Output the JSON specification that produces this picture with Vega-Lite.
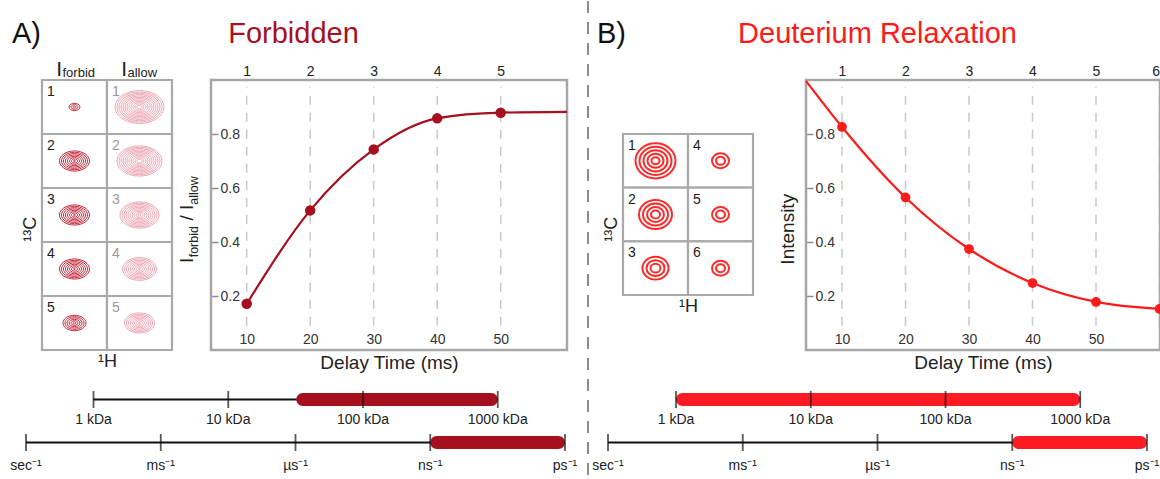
{
  "$schema": "https://vega.github.io/schema/vega-lite/v6.json",
  "padding": 0,
  "background": "white",
  "config": {
    "view": {"stroke": null},
    "font": "Liberation Sans",
    "axis": {"grid": false, "titleFontWeight": "normal", "labelColor": "#333333", "titleColor": "#222222", "labelFont": "Liberation Sans", "titleFont": "Liberation Sans"}
  },
  "datasets": {
    "cellsA": [
      {"c0": 0, "c1": 1, "r0": 0, "r1": 1, "n": "1", "kind": "forbid"},
      {"c0": 0, "c1": 1, "r0": 1, "r1": 2, "n": "2", "kind": "forbid"},
      {"c0": 0, "c1": 1, "r0": 2, "r1": 3, "n": "3", "kind": "forbid"},
      {"c0": 0, "c1": 1, "r0": 3, "r1": 4, "n": "4", "kind": "forbid"},
      {"c0": 0, "c1": 1, "r0": 4, "r1": 5, "n": "5", "kind": "forbid"},
      {"c0": 1, "c1": 2, "r0": 0, "r1": 1, "n": "1", "kind": "allow"},
      {"c0": 1, "c1": 2, "r0": 1, "r1": 2, "n": "2", "kind": "allow"},
      {"c0": 1, "c1": 2, "r0": 2, "r1": 3, "n": "3", "kind": "allow"},
      {"c0": 1, "c1": 2, "r0": 3, "r1": 4, "n": "4", "kind": "allow"},
      {"c0": 1, "c1": 2, "r0": 4, "r1": 5, "n": "5", "kind": "allow"}
    ],
    "headersA": [
      {"mid": 0.5, "main": "I", "sub": "forbid"},
      {"mid": 1.5, "main": "I", "sub": "allow"}
    ],
    "ringsA": [
      {"h": 0.5, "c": 0.5, "w": 2.75, "kind": "forbid"}, {"h": 0.5, "c": 0.5, "w": 1.75, "kind": "forbid"}, {"h": 0.5, "c": 0.5, "w": 0.75, "kind": "forbid"},
      {"h": 0.5, "c": 1.5, "w": 7.5, "kind": "forbid"}, {"h": 0.5, "c": 1.5, "w": 6.5, "kind": "forbid"}, {"h": 0.5, "c": 1.5, "w": 5.5, "kind": "forbid"}, {"h": 0.5, "c": 1.5, "w": 4.5, "kind": "forbid"}, {"h": 0.5, "c": 1.5, "w": 3.5, "kind": "forbid"}, {"h": 0.5, "c": 1.5, "w": 2.5, "kind": "forbid"}, {"h": 0.5, "c": 1.5, "w": 1.5, "kind": "forbid"}, {"h": 0.5, "c": 1.5, "w": 0.5, "kind": "forbid"},
      {"h": 0.5, "c": 2.5, "w": 7.5, "kind": "forbid"}, {"h": 0.5, "c": 2.5, "w": 6.5, "kind": "forbid"}, {"h": 0.5, "c": 2.5, "w": 5.5, "kind": "forbid"}, {"h": 0.5, "c": 2.5, "w": 4.5, "kind": "forbid"}, {"h": 0.5, "c": 2.5, "w": 3.5, "kind": "forbid"}, {"h": 0.5, "c": 2.5, "w": 2.5, "kind": "forbid"}, {"h": 0.5, "c": 2.5, "w": 1.5, "kind": "forbid"}, {"h": 0.5, "c": 2.5, "w": 0.5, "kind": "forbid"},
      {"h": 0.5, "c": 3.5, "w": 7.5, "kind": "forbid"}, {"h": 0.5, "c": 3.5, "w": 6.5, "kind": "forbid"}, {"h": 0.5, "c": 3.5, "w": 5.5, "kind": "forbid"}, {"h": 0.5, "c": 3.5, "w": 4.5, "kind": "forbid"}, {"h": 0.5, "c": 3.5, "w": 3.5, "kind": "forbid"}, {"h": 0.5, "c": 3.5, "w": 2.5, "kind": "forbid"}, {"h": 0.5, "c": 3.5, "w": 1.5, "kind": "forbid"}, {"h": 0.5, "c": 3.5, "w": 0.5, "kind": "forbid"},
      {"h": 0.5, "c": 4.5, "w": 5.75, "kind": "forbid"}, {"h": 0.5, "c": 4.5, "w": 4.75, "kind": "forbid"}, {"h": 0.5, "c": 4.5, "w": 3.75, "kind": "forbid"}, {"h": 0.5, "c": 4.5, "w": 2.75, "kind": "forbid"}, {"h": 0.5, "c": 4.5, "w": 1.75, "kind": "forbid"}, {"h": 0.5, "c": 4.5, "w": 0.75, "kind": "forbid"},
      {"h": 1.5, "c": 0.5, "w": 12.25, "kind": "allow"}, {"h": 1.5, "c": 0.5, "w": 11.25, "kind": "allow"}, {"h": 1.5, "c": 0.5, "w": 10.25, "kind": "allow"}, {"h": 1.5, "c": 0.5, "w": 9.25, "kind": "allow"}, {"h": 1.5, "c": 0.5, "w": 8.25, "kind": "allow"}, {"h": 1.5, "c": 0.5, "w": 7.25, "kind": "allow"}, {"h": 1.5, "c": 0.5, "w": 6.25, "kind": "allow"}, {"h": 1.5, "c": 0.5, "w": 5.25, "kind": "allow"}, {"h": 1.5, "c": 0.5, "w": 4.25, "kind": "allow"}, {"h": 1.5, "c": 0.5, "w": 3.25, "kind": "allow"}, {"h": 1.5, "c": 0.5, "w": 2.25, "kind": "allow"}, {"h": 1.5, "c": 0.5, "w": 1.25, "kind": "allow"},
      {"h": 1.5, "c": 1.5, "w": 11.25, "kind": "allow"}, {"h": 1.5, "c": 1.5, "w": 10.25, "kind": "allow"}, {"h": 1.5, "c": 1.5, "w": 9.25, "kind": "allow"}, {"h": 1.5, "c": 1.5, "w": 8.25, "kind": "allow"}, {"h": 1.5, "c": 1.5, "w": 7.25, "kind": "allow"}, {"h": 1.5, "c": 1.5, "w": 6.25, "kind": "allow"}, {"h": 1.5, "c": 1.5, "w": 5.25, "kind": "allow"}, {"h": 1.5, "c": 1.5, "w": 4.25, "kind": "allow"}, {"h": 1.5, "c": 1.5, "w": 3.25, "kind": "allow"}, {"h": 1.5, "c": 1.5, "w": 2.25, "kind": "allow"}, {"h": 1.5, "c": 1.5, "w": 1.25, "kind": "allow"},
      {"h": 1.5, "c": 2.5, "w": 9.75, "kind": "allow"}, {"h": 1.5, "c": 2.5, "w": 8.75, "kind": "allow"}, {"h": 1.5, "c": 2.5, "w": 7.75, "kind": "allow"}, {"h": 1.5, "c": 2.5, "w": 6.75, "kind": "allow"}, {"h": 1.5, "c": 2.5, "w": 5.75, "kind": "allow"}, {"h": 1.5, "c": 2.5, "w": 4.75, "kind": "allow"}, {"h": 1.5, "c": 2.5, "w": 3.75, "kind": "allow"}, {"h": 1.5, "c": 2.5, "w": 2.75, "kind": "allow"}, {"h": 1.5, "c": 2.5, "w": 1.75, "kind": "allow"}, {"h": 1.5, "c": 2.5, "w": 0.75, "kind": "allow"},
      {"h": 1.5, "c": 3.5, "w": 8.5, "kind": "allow"}, {"h": 1.5, "c": 3.5, "w": 7.5, "kind": "allow"}, {"h": 1.5, "c": 3.5, "w": 6.5, "kind": "allow"}, {"h": 1.5, "c": 3.5, "w": 5.5, "kind": "allow"}, {"h": 1.5, "c": 3.5, "w": 4.5, "kind": "allow"}, {"h": 1.5, "c": 3.5, "w": 3.5, "kind": "allow"}, {"h": 1.5, "c": 3.5, "w": 2.5, "kind": "allow"}, {"h": 1.5, "c": 3.5, "w": 1.5, "kind": "allow"}, {"h": 1.5, "c": 3.5, "w": 0.5, "kind": "allow"},
      {"h": 1.5, "c": 4.5, "w": 7.5, "kind": "allow"}, {"h": 1.5, "c": 4.5, "w": 6.5, "kind": "allow"}, {"h": 1.5, "c": 4.5, "w": 5.5, "kind": "allow"}, {"h": 1.5, "c": 4.5, "w": 4.5, "kind": "allow"}, {"h": 1.5, "c": 4.5, "w": 3.5, "kind": "allow"}, {"h": 1.5, "c": 4.5, "w": 2.5, "kind": "allow"}, {"h": 1.5, "c": 4.5, "w": 1.5, "kind": "allow"}, {"h": 1.5, "c": 4.5, "w": 0.5, "kind": "allow"}
    ],
    "cellsB": [
      {"c0": 0, "c1": 1, "r0": 0, "r1": 1, "n": "1"},
      {"c0": 0, "c1": 1, "r0": 1, "r1": 2, "n": "2"},
      {"c0": 0, "c1": 1, "r0": 2, "r1": 3, "n": "3"},
      {"c0": 1, "c1": 2, "r0": 0, "r1": 1, "n": "4"},
      {"c0": 1, "c1": 2, "r0": 1, "r1": 2, "n": "5"},
      {"c0": 1, "c1": 2, "r0": 2, "r1": 3, "n": "6"}
    ],
    "ringsB": [
      {"h": 0.5, "c": 0.5, "w": 10}, {"h": 0.5, "c": 0.5, "w": 8}, {"h": 0.5, "c": 0.5, "w": 6}, {"h": 0.5, "c": 0.5, "w": 4}, {"h": 0.5, "c": 0.5, "w": 2},
      {"h": 0.5, "c": 1.5, "w": 8.25}, {"h": 0.5, "c": 1.5, "w": 6.25}, {"h": 0.5, "c": 1.5, "w": 4.25}, {"h": 0.5, "c": 1.5, "w": 2.25},
      {"h": 0.5, "c": 2.5, "w": 6.5}, {"h": 0.5, "c": 2.5, "w": 4.5}, {"h": 0.5, "c": 2.5, "w": 2.5},
      {"h": 1.5, "c": 0.5, "w": 4.25}, {"h": 1.5, "c": 0.5, "w": 2.25},
      {"h": 1.5, "c": 1.5, "w": 4.25}, {"h": 1.5, "c": 1.5, "w": 2.25},
      {"h": 1.5, "c": 2.5, "w": 4.25}, {"h": 1.5, "c": 2.5, "w": 2.25}
    ],
    "pointsA": [
      {"t": 10, "v": 0.171}, {"t": 20, "v": 0.517}, {"t": 30, "v": 0.743}, {"t": 40, "v": 0.858}, {"t": 50, "v": 0.879}
    ],
    "curveA": [
      {"t": 10, "v": 0.171}, {"t": 20, "v": 0.517}, {"t": 30, "v": 0.743}, {"t": 40, "v": 0.858}, {"t": 50, "v": 0.879}, {"t": 60.44, "v": 0.882}
    ],
    "pointsB": [
      {"t": 10, "v": 0.826}, {"t": 20, "v": 0.565}, {"t": 30, "v": 0.374}, {"t": 40, "v": 0.248}, {"t": 50, "v": 0.178}, {"t": 60, "v": 0.152}
    ],
    "curveB": [
      {"t": 4.33, "v": 0.996}, {"t": 10, "v": 0.826}, {"t": 20, "v": 0.565}, {"t": 30, "v": 0.374}, {"t": 40, "v": 0.248}, {"t": 50, "v": 0.178}, {"t": 60, "v": 0.152}
    ],
    "kdaSpan": [{"track": "kDa", "lo": 1, "hi": 1000}],
    "kdaBandA": [{"track": "kDa", "lo": 32, "hi": 1000}],
    "kdaBandB": [{"track": "kDa", "lo": 1, "hi": 1000}],
    "kdaTicks": [
      {"track": "kDa", "k": 1, "lab": "1 kDa"}, {"track": "kDa", "k": 10, "lab": "10 kDa"}, {"track": "kDa", "k": 100, "lab": "100 kDa"}, {"track": "kDa", "k": 1000, "lab": "1000 kDa"}
    ],
    "timeSpan": [{"track": "time", "lo": 0, "hi": 4}],
    "timeBand": [{"track": "time", "lo": 3, "hi": 4}],
    "timeTicks": [
      {"track": "time", "p": 0, "lab": "sec⁻¹"}, {"track": "time", "p": 1, "lab": "ms⁻¹"}, {"track": "time", "p": 2, "lab": "µs⁻¹"}, {"track": "time", "p": 3, "lab": "ns⁻¹"}, {"track": "time", "p": 4, "lab": "ps⁻¹"}
    ]
  },
  "hconcat": [
    {
      "vconcat": [
        {
          "width": 587, "height": 79,
          "layer": [
            {"data": {"values": [{"label": "Forbidden"}]}, "mark": {"type": "text", "fontSize": 29, "color": "#a8101f", "baseline": "alphabetic", "dy": 2.5}, "encoding": {"text": {"field": "label"}}},
            {"data": {"values": [{"label": "A)"}]}, "mark": {"type": "text", "fontSize": 29, "color": "#111111", "align": "left", "baseline": "alphabetic", "dy": 2.5, "dx": -281.5}, "encoding": {"text": {"field": "label"}}}
          ]
        },
        {
          "width": 567, "height": 297.5,
          "resolve": {"scale": {"x": "independent", "y": "independent"}},
          "layer": [
            {
              "resolve": {"scale": {"color": "independent"}},
              "layer": [
                {
                  "data": {"name": "cellsA"},
                  "mark": {"type": "rect", "fill": "white", "stroke": "#a9a9a9", "strokeWidth": 2.2},
                  "encoding": {
                    "x": {"field": "c0", "type": "quantitative", "scale": {"domain": [-0.646, 8.077], "nice": false, "zero": false},
                          "axis": {"orient": "bottom", "offset": -27.5, "labels": false, "ticks": false, "domain": false, "title": "¹H", "titleFontSize": 18, "titlePadding": 2, "titleX": 107}},
                    "x2": {"field": "c1"},
                    "y": {"field": "r0", "type": "quantitative", "scale": {"domain": [0, 5.5093], "nice": false, "zero": false, "reverse": true},
                          "axis": {"orient": "left", "offset": -42, "labels": false, "ticks": false, "domain": false, "title": "¹³C", "titleFontSize": 18, "titlePadding": 3}},
                    "y2": {"field": "r1"}
                  }
                },
                {
                  "data": {"name": "ringsA"},
                  "mark": {"type": "point", "shape": "M -1 0 A 1 0.67 0 1 0 1 0 A 1 0.67 0 1 0 -1 0 Z", "filled": false, "strokeWidth": 1, "opacity": 1},
                  "encoding": {
                    "x": {"field": "h", "type": "quantitative"},
                    "y": {"field": "c", "type": "quantitative"},
                    "size": {"field": "w", "type": "quantitative", "scale": {"type": "pow", "exponent": 2, "domain": [0, 12.5], "range": [0, 2500]}, "legend": null},
                    "color": {"field": "kind", "type": "nominal", "scale": {"domain": ["forbid", "allow"], "range": ["#c62a3d", "#eba6b4"]}, "legend": null}
                  }
                },
                {
                  "data": {"name": "cellsA"},
                  "mark": {"type": "text", "align": "left", "baseline": "top", "dx": 5, "dy": 5, "fontSize": 14},
                  "encoding": {
                    "x": {"field": "c0", "type": "quantitative"},
                    "y": {"field": "r0", "type": "quantitative"},
                    "text": {"field": "n"},
                    "color": {"field": "kind", "type": "nominal", "scale": {"domain": ["forbid", "allow"], "range": ["#1a1a1a", "#9a9a9a"]}, "legend": null}
                  }
                },
                {
                  "data": {"name": "headersA"},
                  "mark": {"type": "text", "align": "right", "baseline": "alphabetic", "dx": -12.5, "dy": -4, "fontSize": 21, "color": "#222222"},
                  "encoding": {"x": {"field": "mid", "type": "quantitative"}, "y": {"datum": 0, "type": "quantitative"}, "text": {"field": "main"}}
                },
                {
                  "data": {"name": "headersA"},
                  "mark": {"type": "text", "align": "left", "baseline": "alphabetic", "dx": -12, "dy": -3, "fontSize": 13, "color": "#222222"},
                  "encoding": {"x": {"field": "mid", "type": "quantitative"}, "y": {"datum": 0, "type": "quantitative"}, "text": {"field": "sub"}}
                }
              ]
            },
            {
              "resolve": {"axis": {"x": "independent", "y": "independent"}},
              "layer": [
                {
                  "data": {"name": "pointsA"},
                  "mark": {"type": "rule", "color": "#c9c9c9", "strokeWidth": 1.5, "strokeDash": [9, 8]},
                  "encoding": {
                    "x": {"field": "t", "type": "quantitative", "scale": {"domain": [-28.847, 60.44], "nice": false, "zero": false},
                          "axis": {"orient": "bottom", "offset": -47.5, "values": [10, 20, 30, 40, 50], "domain": false, "ticks": false, "labelPadding": 2, "labelFontSize": 14, "title": "Delay Time (ms)", "titleFontSize": 19, "titlePadding": 7, "titleX": 389}},
                    "y": {"datum": 0.09, "type": "quantitative", "scale": {"domain": [-0.10185, 1], "nice": false, "zero": false},
                          "axis": {"orient": "right", "offset": -356, "values": [0.2, 0.4, 0.6, 0.8], "domain": false, "tickSize": 7, "tickColor": "#8c8c8c", "tickWidth": 1.5, "labelPadding": 2, "labelFontSize": 14, "title": null}},
                    "y2": {"datum": 0.975}
                  }
                },
                {
                  "data": {"values": [{"frame": "plot"}]},
                  "mark": {"type": "rect", "filled": false, "color": "#a6a6a6", "strokeWidth": 2.5},
                  "encoding": {
                    "x": {"datum": 4.38, "type": "quantitative", "axis": null}, "x2": {"datum": 60.44},
                    "y": {"datum": 0, "type": "quantitative", "axis": null}, "y2": {"datum": 1}
                  }
                },
                {
                  "data": {"name": "curveA"},
                  "mark": {"type": "line", "interpolate": "monotone", "color": "#a50f1e", "strokeWidth": 2.2},
                  "encoding": {
                    "x": {"field": "t", "type": "quantitative", "axis": {"orient": "top", "values": [10, 20, 30, 40, 50], "labelExpr": "datum.value / 10", "domain": false, "ticks": false, "labelPadding": 1.5, "labelFontSize": 14, "labelColor": "#222222", "title": null}},
                    "y": {"field": "v", "type": "quantitative", "axis": null}
                  }
                },
                {
                  "data": {"name": "pointsA"},
                  "mark": {"type": "circle", "size": 110, "color": "#a50f1e", "opacity": 1},
                  "encoding": {"x": {"field": "t", "type": "quantitative", "axis": null}, "y": {"field": "v", "type": "quantitative", "axis": null}}
                },
                {
                  "data": {"values": [{"s": "I"}]},
                  "mark": {"type": "text", "angle": 270, "align": "left", "baseline": "alphabetic", "dx": -48, "dy": -18, "fontSize": 19, "color": "#222222"},
                  "encoding": {"x": {"datum": 4.38, "type": "quantitative", "axis": null}, "y": {"datum": 0.5, "type": "quantitative", "axis": null}, "text": {"field": "s"}}
                },
                {
                  "data": {"values": [{"s": "forbid"}]},
                  "mark": {"type": "text", "angle": 270, "align": "left", "baseline": "alphabetic", "dx": -42.3, "dy": -13, "fontSize": 12.5, "color": "#222222"},
                  "encoding": {"x": {"datum": 4.38, "type": "quantitative", "axis": null}, "y": {"datum": 0.5, "type": "quantitative", "axis": null}, "text": {"field": "s"}}
                },
                {
                  "data": {"values": [{"s": "/ I"}]},
                  "mark": {"type": "text", "angle": 270, "align": "left", "baseline": "alphabetic", "dx": -5.6, "dy": -18, "fontSize": 19, "color": "#222222"},
                  "encoding": {"x": {"datum": 4.38, "type": "quantitative", "axis": null}, "y": {"datum": 0.5, "type": "quantitative", "axis": null}, "text": {"field": "s"}}
                },
                {
                  "data": {"values": [{"s": "allow"}]},
                  "mark": {"type": "text", "angle": 270, "align": "left", "baseline": "alphabetic", "dx": 10.2, "dy": -13, "fontSize": 12.5, "color": "#222222"},
                  "encoding": {"x": {"datum": 4.38, "type": "quantitative", "axis": null}, "y": {"datum": 0.5, "type": "quantitative", "axis": null}, "text": {"field": "s"}}
                }
              ]
            }
          ]
        },
        {
          "width": 587, "height": 86,
          "resolve": {"scale": {"x": "independent"}},
          "layer": [
            {
              "data": {"name": "kdaSpan"},
              "mark": {"type": "rule", "color": "#111111", "strokeWidth": 2},
              "encoding": {
                "x": {"field": "lo", "type": "quantitative", "scale": {"type": "log", "domain": [0.2023, 4596], "nice": false}, "axis": null},
                "x2": {"field": "hi"},
                "y": {"field": "track", "type": "nominal", "scale": {"type": "band", "domain": ["kDa", "time"], "paddingInner": 0, "paddingOuter": 0}, "axis": null}
              }
            },
            {
              "data": {"name": "kdaBandA"},
              "mark": {"type": "bar", "height": 13, "cornerRadius": 6.5, "color": "#a50f1e"},
              "encoding": {
                "x": {"field": "lo", "type": "quantitative", "scale": {"type": "log", "domain": [0.2023, 4596], "nice": false}, "axis": null},
                "x2": {"field": "hi"},
                "y": {"field": "track", "type": "nominal", "scale": {"type": "band", "domain": ["kDa", "time"], "paddingInner": 0, "paddingOuter": 0}, "axis": null}
              }
            },
            {
              "data": {"name": "kdaTicks"},
              "mark": {"type": "tick", "color": "#111111", "thickness": 1.8, "size": 17},
              "encoding": {
                "x": {"field": "k", "type": "quantitative", "scale": {"type": "log", "domain": [0.2023, 4596], "nice": false}, "axis": null},
                "y": {"field": "track", "type": "nominal", "scale": {"type": "band", "domain": ["kDa", "time"], "paddingInner": 0, "paddingOuter": 0}, "axis": null}
              }
            },
            {
              "data": {"name": "kdaTicks"},
              "mark": {"type": "text", "dy": 20, "fontSize": 14, "color": "#222222"},
              "encoding": {
                "x": {"field": "k", "type": "quantitative", "scale": {"type": "log", "domain": [0.2023, 4596], "nice": false}, "axis": null},
                "y": {"field": "track", "type": "nominal", "scale": {"type": "band", "domain": ["kDa", "time"], "paddingInner": 0, "paddingOuter": 0}, "axis": null},
                "text": {"field": "lab"}
              }
            },
            {
              "data": {"name": "timeSpan"},
              "mark": {"type": "rule", "color": "#111111", "strokeWidth": 2},
              "encoding": {
                "x": {"field": "lo", "type": "quantitative", "scale": {"domain": [-0.19295, 4.16327], "nice": false, "zero": false}, "axis": null},
                "x2": {"field": "hi"},
                "y": {"field": "track", "type": "nominal", "scale": {"type": "band", "domain": ["kDa", "time"], "paddingInner": 0, "paddingOuter": 0}, "axis": null}
              }
            },
            {
              "data": {"name": "timeBand"},
              "mark": {"type": "bar", "height": 13, "cornerRadius": 6.5, "color": "#a50f1e"},
              "encoding": {
                "x": {"field": "lo", "type": "quantitative", "scale": {"domain": [-0.19295, 4.16327], "nice": false, "zero": false}, "axis": null},
                "x2": {"field": "hi"},
                "y": {"field": "track", "type": "nominal", "scale": {"type": "band", "domain": ["kDa", "time"], "paddingInner": 0, "paddingOuter": 0}, "axis": null}
              }
            },
            {
              "data": {"name": "timeTicks"},
              "mark": {"type": "tick", "color": "#111111", "thickness": 1.8, "size": 17},
              "encoding": {
                "x": {"field": "p", "type": "quantitative", "scale": {"domain": [-0.19295, 4.16327], "nice": false, "zero": false}, "axis": null},
                "y": {"field": "track", "type": "nominal", "scale": {"type": "band", "domain": ["kDa", "time"], "paddingInner": 0, "paddingOuter": 0}, "axis": null}
              }
            },
            {
              "data": {"name": "timeTicks"},
              "mark": {"type": "text", "dy": 23, "fontSize": 14, "color": "#222222"},
              "encoding": {
                "x": {"field": "p", "type": "quantitative", "scale": {"domain": [-0.19295, 4.16327], "nice": false, "zero": false}, "axis": null},
                "y": {"field": "track", "type": "nominal", "scale": {"type": "band", "domain": ["kDa", "time"], "paddingInner": 0, "paddingOuter": 0}, "axis": null},
                "text": {"field": "lab"}
              }
            }
          ]
        }
      ],
      "spacing": 0,
      "bounds": "flush"
    },
    {
      "width": 2, "height": 479,
      "data": {"values": [{"pos": 0}]},
      "mark": {"type": "rule", "color": "#8c8c8c", "strokeWidth": 2, "strokeDash": [12, 9]},
      "encoding": {"x": {"field": "pos", "type": "quantitative", "scale": {"domain": [-1, 1]}, "axis": null}}
    },
    {
      "vconcat": [
        {
          "width": 571, "height": 79,
          "layer": [
            {"data": {"values": [{"label": "Deuterium Relaxation"}]}, "mark": {"type": "text", "fontSize": 29, "color": "#ff1a1a", "baseline": "alphabetic", "dy": 2.5, "dx": 3}, "encoding": {"text": {"field": "label"}}},
            {"data": {"values": [{"label": "B)"}]}, "mark": {"type": "text", "fontSize": 29, "color": "#111111", "align": "left", "baseline": "alphabetic", "dy": 2.5, "dx": -277.5}, "encoding": {"text": {"field": "label"}}}
          ]
        },
        {
          "width": 571, "height": 297.5,
          "resolve": {"scale": {"x": "independent", "y": "independent"}},
          "layer": [
            {
              "layer": [
                {
                  "data": {"name": "cellsB"},
                  "mark": {"type": "rect", "fill": "white", "stroke": "#a9a9a9", "strokeWidth": 2.2},
                  "encoding": {
                    "x": {"field": "c0", "type": "quantitative", "scale": {"domain": [-0.5231, 8.2615], "nice": false, "zero": false},
                          "axis": {"orient": "bottom", "offset": -82.5, "labels": false, "ticks": false, "domain": false, "title": "¹H", "titleFontSize": 18, "titlePadding": 2, "titleX": 99}},
                    "x2": {"field": "c1"},
                    "y": {"field": "r0", "type": "quantitative", "scale": {"domain": [-1.0062, 4.5372], "nice": false, "zero": false, "reverse": true},
                          "axis": {"orient": "left", "offset": -34, "labels": false, "ticks": false, "domain": false, "title": "¹³C", "titleFontSize": 18, "titlePadding": 3}},
                    "y2": {"field": "r1"}
                  }
                },
                {
                  "data": {"name": "ringsB"},
                  "mark": {"type": "point", "shape": "M -1 0 A 1 0.88 0 1 0 1 0 A 1 0.88 0 1 0 -1 0 Z", "filled": false, "strokeWidth": 2, "opacity": 1, "color": "#ff2b2b"},
                  "encoding": {
                    "x": {"field": "h", "type": "quantitative"},
                    "y": {"field": "c", "type": "quantitative"},
                    "size": {"field": "w", "type": "quantitative", "scale": {"type": "pow", "exponent": 2, "domain": [0, 12.5], "range": [0, 2500]}, "legend": null}
                  }
                },
                {
                  "data": {"name": "cellsB"},
                  "mark": {"type": "text", "align": "left", "baseline": "top", "dx": 5, "dy": 5, "fontSize": 14, "color": "#1a1a1a"},
                  "encoding": {
                    "x": {"field": "c0", "type": "quantitative"},
                    "y": {"field": "r0", "type": "quantitative"},
                    "text": {"field": "n"}
                  }
                }
              ]
            },
            {
              "resolve": {"axis": {"x": "independent", "y": "independent"}},
              "layer": [
                {
                  "data": {"name": "pointsB"},
                  "mark": {"type": "rule", "color": "#c9c9c9", "strokeWidth": 1.5, "strokeDash": [9, 8]},
                  "encoding": {
                    "x": {"field": "t", "type": "quantitative", "scale": {"domain": [-29.843, 60.08], "nice": false, "zero": false},
                          "axis": {"orient": "bottom", "offset": -47.5, "values": [10, 20, 30, 40, 50], "domain": false, "ticks": false, "labelPadding": 2, "labelFontSize": 14, "title": "Delay Time (ms)", "titleFontSize": 19, "titlePadding": 7, "titleX": 394}},
                    "y": {"datum": 0.09, "type": "quantitative", "scale": {"domain": [-0.10185, 1], "nice": false, "zero": false},
                          "axis": {"orient": "right", "offset": -354, "values": [0.2, 0.4, 0.6, 0.8], "domain": false, "tickSize": 7, "tickColor": "#8c8c8c", "tickWidth": 1.5, "labelPadding": 2, "labelFontSize": 14, "title": null}},
                    "y2": {"datum": 0.975}
                  }
                },
                {
                  "data": {"values": [{"frame": "plot"}]},
                  "mark": {"type": "rect", "filled": false, "color": "#a6a6a6", "strokeWidth": 2.5},
                  "encoding": {
                    "x": {"datum": 4.33, "type": "quantitative", "axis": null}, "x2": {"datum": 60.08},
                    "y": {"datum": 0, "type": "quantitative", "axis": null}, "y2": {"datum": 1}
                  }
                },
                {
                  "data": {"name": "curveB"},
                  "mark": {"type": "line", "interpolate": "monotone", "color": "#ff1a1a", "strokeWidth": 2.2},
                  "encoding": {
                    "x": {"field": "t", "type": "quantitative", "axis": {"orient": "top", "values": [10, 20, 30, 40, 50, 60], "labelExpr": "datum.value / 10", "domain": false, "ticks": false, "labelPadding": 1.5, "labelFontSize": 14, "labelColor": "#222222", "title": null}},
                    "y": {"field": "v", "type": "quantitative", "axis": {"orient": "left", "offset": -217, "labels": false, "ticks": false, "domain": false, "title": "Intensity", "titleFontSize": 19, "titlePadding": 9}}
                  }
                },
                {
                  "data": {"name": "pointsB"},
                  "mark": {"type": "circle", "size": 95, "color": "#ff1a1a", "opacity": 1},
                  "encoding": {"x": {"field": "t", "type": "quantitative", "axis": null}, "y": {"field": "v", "type": "quantitative", "axis": null}}
                }
              ]
            }
          ]
        },
        {
          "width": 571, "height": 86,
          "resolve": {"scale": {"x": "independent"}},
          "layer": [
            {
              "data": {"name": "kdaSpan"},
              "mark": {"type": "rule", "color": "#111111", "strokeWidth": 2},
              "encoding": {
                "x": {"field": "lo", "type": "quantitative", "scale": {"type": "log", "domain": [0.22607, 3907.3], "nice": false}, "axis": null},
                "x2": {"field": "hi"},
                "y": {"field": "track", "type": "nominal", "scale": {"type": "band", "domain": ["kDa", "time"], "paddingInner": 0, "paddingOuter": 0}, "axis": null}
              }
            },
            {
              "data": {"name": "kdaBandB"},
              "mark": {"type": "bar", "height": 13, "cornerRadius": 6.5, "color": "#ff1a22"},
              "encoding": {
                "x": {"field": "lo", "type": "quantitative", "scale": {"type": "log", "domain": [0.22607, 3907.3], "nice": false}, "axis": null},
                "x2": {"field": "hi"},
                "y": {"field": "track", "type": "nominal", "scale": {"type": "band", "domain": ["kDa", "time"], "paddingInner": 0, "paddingOuter": 0}, "axis": null}
              }
            },
            {
              "data": {"name": "kdaTicks"},
              "mark": {"type": "tick", "color": "#111111", "thickness": 1.8, "size": 17},
              "encoding": {
                "x": {"field": "k", "type": "quantitative", "scale": {"type": "log", "domain": [0.22607, 3907.3], "nice": false}, "axis": null},
                "y": {"field": "track", "type": "nominal", "scale": {"type": "band", "domain": ["kDa", "time"], "paddingInner": 0, "paddingOuter": 0}, "axis": null}
              }
            },
            {
              "data": {"name": "kdaTicks"},
              "mark": {"type": "text", "dy": 20, "fontSize": 14, "color": "#222222"},
              "encoding": {
                "x": {"field": "k", "type": "quantitative", "scale": {"type": "log", "domain": [0.22607, 3907.3], "nice": false}, "axis": null},
                "y": {"field": "track", "type": "nominal", "scale": {"type": "band", "domain": ["kDa", "time"], "paddingInner": 0, "paddingOuter": 0}, "axis": null},
                "text": {"field": "lab"}
              }
            },
            {
              "data": {"name": "timeSpan"},
              "mark": {"type": "rule", "color": "#111111", "strokeWidth": 2},
              "encoding": {
                "x": {"field": "lo", "type": "quantitative", "scale": {"domain": [-0.141, 4.09647], "nice": false, "zero": false}, "axis": null},
                "x2": {"field": "hi"},
                "y": {"field": "track", "type": "nominal", "scale": {"type": "band", "domain": ["kDa", "time"], "paddingInner": 0, "paddingOuter": 0}, "axis": null}
              }
            },
            {
              "data": {"name": "timeBand"},
              "mark": {"type": "bar", "height": 13, "cornerRadius": 6.5, "color": "#ff1a22"},
              "encoding": {
                "x": {"field": "lo", "type": "quantitative", "scale": {"domain": [-0.141, 4.09647], "nice": false, "zero": false}, "axis": null},
                "x2": {"field": "hi"},
                "y": {"field": "track", "type": "nominal", "scale": {"type": "band", "domain": ["kDa", "time"], "paddingInner": 0, "paddingOuter": 0}, "axis": null}
              }
            },
            {
              "data": {"name": "timeTicks"},
              "mark": {"type": "tick", "color": "#111111", "thickness": 1.8, "size": 17},
              "encoding": {
                "x": {"field": "p", "type": "quantitative", "scale": {"domain": [-0.141, 4.09647], "nice": false, "zero": false}, "axis": null},
                "y": {"field": "track", "type": "nominal", "scale": {"type": "band", "domain": ["kDa", "time"], "paddingInner": 0, "paddingOuter": 0}, "axis": null}
              }
            },
            {
              "data": {"name": "timeTicks"},
              "mark": {"type": "text", "dy": 23, "fontSize": 14, "color": "#222222"},
              "encoding": {
                "x": {"field": "p", "type": "quantitative", "scale": {"domain": [-0.141, 4.09647], "nice": false, "zero": false}, "axis": null},
                "y": {"field": "track", "type": "nominal", "scale": {"type": "band", "domain": ["kDa", "time"], "paddingInner": 0, "paddingOuter": 0}, "axis": null},
                "text": {"field": "lab"}
              }
            }
          ]
        }
      ],
      "spacing": 0,
      "bounds": "flush"
    }
  ],
  "spacing": 0,
  "bounds": "full"
}
